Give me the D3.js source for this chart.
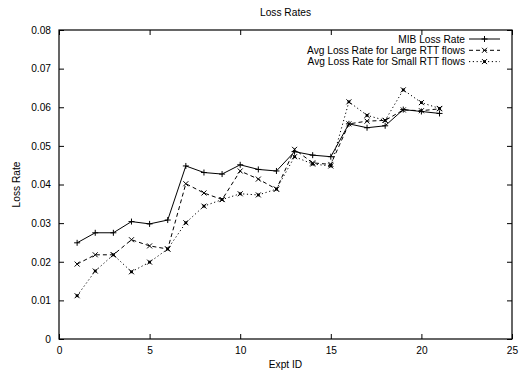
<!DOCTYPE html>
<html>
<head>
<meta charset="utf-8">
<script src="https://cdn.jsdelivr.net/npm/d3@7"></script>
<style>
  body { margin: 0; background: #fff; }
  text { font-family: "Liberation Sans", Arial, sans-serif; }
</style>
</head>
<body>
<div id="chart"></div>
<script>
// Data
const exptIds = d3.range(1, 22);
const mibLoss   = [0.0249, 0.0275, 0.0275, 0.0304, 0.0298, 0.0308, 0.0448, 0.0431, 0.0427, 0.0451, 0.0439,
                   0.0435, 0.0485, 0.0476, 0.0472, 0.0557, 0.0547, 0.0552, 0.0594, 0.0589, 0.0584];
const largeLoss = [0.0194, 0.0218, 0.0218, 0.0257, 0.0241, 0.0233, 0.0402, 0.0378, 0.0361, 0.0435, 0.0414,
                   0.0388, 0.0491, 0.0456, 0.0452, 0.0557, 0.0564, 0.0566, 0.0593, 0.0591, 0.0596];
const smallLoss = [0.0112, 0.0176, 0.0218, 0.0174, 0.0199, 0.0233, 0.0301, 0.0344, 0.0361, 0.0376, 0.0373,
                   0.0388, 0.0472, 0.0453, 0.0448, 0.0614, 0.0579, 0.0566, 0.0645, 0.0612, 0.0597];
const seriesNames = ["MIB Loss Rate", "Avg Loss Rate for Large RTT flows", "Avg Loss Rate for Small RTT flows"];
const xTicks = [0, 5, 10, 15, 20, 25];
const yTicks = [0, 0.01, 0.02, 0.03, 0.04, 0.05, 0.06, 0.07, 0.08];

// Layout
const width = 531, height = 373;
const margin = { top: 30, right: 19, bottom: 34, left: 59 };
const tick = 5;
const fontSize = 10.2;

const svg = d3.select("#chart").append("svg")
    .attr("width", width)
    .attr("height", height);

const x = d3.scaleLinear().domain([0, 25]).range([margin.left, width - margin.right]);
const y = d3.scaleLinear().domain([0, 0.08]).range([height - margin.bottom, margin.top]);

// Axes: gnuplot style, inward ticks mirrored on all sides
svg.append("g")
    .attr("transform", `translate(0,${height - margin.bottom})`)
    .call(d3.axisBottom(x).tickValues(xTicks).tickSizeInner(-tick).tickSizeOuter(0).tickPadding(8).tickFormat(d3.format("d")));
svg.append("g")
    .attr("transform", `translate(0,${margin.top})`)
    .call(d3.axisTop(x).tickValues(xTicks).tickSizeInner(-tick).tickSizeOuter(0).tickFormat(""));
svg.append("g")
    .attr("transform", `translate(${margin.left},0)`)
    .call(d3.axisLeft(y).tickValues(yTicks).tickSizeInner(-tick).tickSizeOuter(0).tickPadding(8)
        .tickFormat(d => d === 0 ? "0" : d3.format(".2f")(d)));
svg.append("g")
    .attr("transform", `translate(${width - margin.right},0)`)
    .call(d3.axisRight(y).tickValues(yTicks).tickSizeInner(-tick).tickSizeOuter(0).tickFormat(""));

svg.selectAll(".domain").remove();
svg.selectAll(".tick line").attr("stroke", "#000");
svg.selectAll(".tick text").attr("font-size", fontSize).attr("fill", "#000");

svg.append("rect")
    .attr("x", margin.left).attr("y", margin.top)
    .attr("width", width - margin.left - margin.right)
    .attr("height", height - margin.top - margin.bottom)
    .attr("fill", "none").attr("stroke", "#000").attr("stroke-width", 1.2);

// Titles
svg.append("text").attr("x", (margin.left + width - margin.right) / 2).attr("y", 16)
    .attr("text-anchor", "middle").attr("font-size", fontSize).text("Loss Rates");
svg.append("text").attr("x", (margin.left + width - margin.right) / 2).attr("y", 368)
    .attr("text-anchor", "middle").attr("font-size", fontSize).text("Expt ID");
svg.append("text").attr("transform", `translate(20,${(margin.top + height - margin.bottom) / 2}) rotate(-90)`)
    .attr("text-anchor", "middle").attr("font-size", fontSize).text("Loss Rate");

// Point symbols
function plus(g, s) {
    g.append("path").attr("d", `M${-s},0H${s}M0,${-s}V${s}`);
}
function cross(g, s) {
    g.append("path").attr("d", `M${-s},${-s}L${s},${s}M${-s},${s}L${s},${-s}`);
}
function star(g, s) {
    cross(g, s);
    g.append("rect").attr("x", -s * 0.55).attr("y", -s * 0.55).attr("width", s * 1.1).attr("height", s * 1.1)
        .attr("fill", "#000").attr("stroke", "none");
}

const series = [
    { name: seriesNames[0], values: mibLoss,   dash: null,  symbol: plus,  size: 3 },
    { name: seriesNames[1], values: largeLoss, dash: "4,3", symbol: cross, size: 2.5 },
    { name: seriesNames[2], values: smallLoss, dash: "1.2,2.6", symbol: star, size: 2.5 }
];

const line = d3.line().x((d, i) => x(exptIds[i])).y(d => y(d));

series.forEach(function(s) {
    svg.append("path")
        .attr("d", line(s.values))
        .attr("fill", "none")
        .attr("stroke", "#000")
        .attr("stroke-width", 1)
        .attr("stroke-dasharray", s.dash);

    svg.append("g")
        .attr("stroke", "#000").attr("stroke-width", 1).attr("fill", "none")
        .selectAll("g")
        .data(s.values)
        .join("g")
        .attr("transform", (d, i) => `translate(${x(exptIds[i])},${y(d)})`)
        .each(function() { s.symbol(d3.select(this), s.size); });
});

// Legend
const legend = svg.append("g");
series.forEach(function(s, i) {
    const ly = 39 + i * 11.3;
    legend.append("text").attr("x", 465).attr("y", ly).attr("dy", "0.35em")
        .attr("text-anchor", "end").attr("font-size", fontSize).text(s.name);
    legend.append("line").attr("x1", 469).attr("x2", 500).attr("y1", ly).attr("y2", ly)
        .attr("stroke", "#000").attr("stroke-width", 1).attr("stroke-dasharray", s.dash);
    const g = legend.append("g").attr("transform", `translate(484.5,${ly})`)
        .attr("stroke", "#000").attr("stroke-width", 1).attr("fill", "none");
    s.symbol(g, s.size);
});
</script>
</body>
</html>
